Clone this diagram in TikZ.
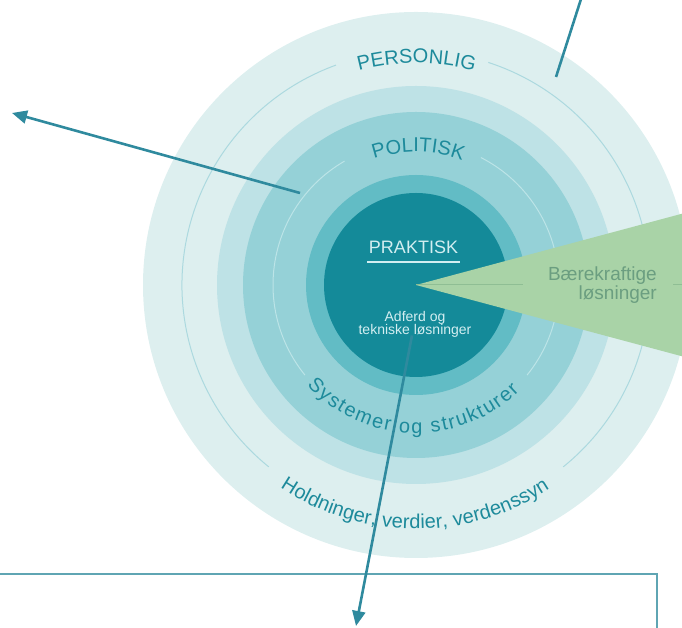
\documentclass[tikz,border=0pt]{standalone}
\usepackage{fontspec}
\setmainfont{Liberation Sans}
\usetikzlibrary{arrows.meta,decorations.text,positioning,calc}

\definecolor{ringA}{HTML}{DDEFEF}
\definecolor{ringB}{HTML}{BEE2E6}
\definecolor{ringC}{HTML}{95D1D7}
\definecolor{ringD}{HTML}{62BCC5}
\definecolor{core}{HTML}{148A99}
\definecolor{thinA}{HTML}{ACD9DF}
\definecolor{thinC}{HTML}{BCE4E7}
\definecolor{labelc}{HTML}{1D8A9B}
\definecolor{corelabel}{HTML}{D3EEF1}
\definecolor{wedge}{HTML}{A9D3A7}
\definecolor{wedgetext}{HTML}{6B9E80}
\definecolor{wedgeline}{HTML}{8FBE94}
\definecolor{arrowc}{HTML}{2F8A9E}
\definecolor{boxc}{HTML}{5FA5B3}

\newcommand\arcfont{\fontsize{20}{20}\selectfont}

\begin{document}
\begin{tikzpicture}[x=1pt,y=1pt,>={Triangle[length=15pt,width=13pt]},
    pointer/.style={->,draw=arrowc,fill=arrowc,line width=2.6pt},
    thin ring/.style={draw=#1,line width=1pt},
    arc label/.style={decorate,decoration={text along path,text={|\arcfont|#1},
        text color=labelc,text align=fit to path}},
    core text/.style={text=corelabel,inner sep=0pt}]

\useasboundingbox (0,0) rectangle (682,628);
\clip (0,0) rectangle (682,628);
\coordinate (C) at (416,343);

% rings
\fill[ringA] (C) circle (273);
\fill[ringB] (C) circle (199);
\fill[ringC] (C) circle (173);
\fill[ringD] (C) circle (110);
\fill[core]  (C) circle (92);

% thin circles, open where the labels sit
\draw[thin ring=thinA] ([shift={(110:234)}]C) arc[start angle=110,end angle=231,radius=234];
\draw[thin ring=thinA] ([shift={(309:234)}]C) arc[start angle=309,end angle=432,radius=234];
\draw[thin ring=thinC] ([shift={(120:143)}]C) arc[start angle=120,end angle=219,radius=143];
\draw[thin ring=thinC] ([shift={(321:143)}]C) arc[start angle=321,end angle=423,radius=143];

% labels on the rings
\arcfont
\path[arc label=PERSONLIG] ([shift={(104.9:222)}]C) arc[start angle=104.9,end angle=75.8,radius=222];
\path[arc label=POLITISK] ([shift={(108.4:133)}]C) arc[start angle=108.4,end angle=70,radius=133];
\path[arc label={Systemer og strukturer}] ([shift={(222.6:148)}]C) arc[start angle=222.6,end angle=314.5,radius=148];
\path[arc label={Holdninger, verdier, verdenssyn}] ([shift={(236.2:244)}]C) arc[start angle=236.2,end angle=303.2,radius=244];

% core
\node[core text,font=\fontsize{18}{18}\selectfont,anchor=base] (praktisk) at (413.5,374) {PRAKTISK};
\draw[corelabel,line width=2pt] ([shift={(-1.5,-8.3)}]praktisk.base west) -- ([shift={(1.5,-8.3)}]praktisk.base east);
\node[core text,font=\fontsize{14}{13.3}\selectfont,align=center,anchor=base] (adferd) at (415,293.5) {Adferd og\\tekniske løsninger};

% wedge
\fill[wedge] (C) -- +(15:400) -- +(-15:400) -- cycle;
\node[text=wedgetext,inner sep=0pt,font=\fontsize{19}{19}\selectfont,align=right,anchor=base east] (losning) at (657,328) {Bærekraftige\\løsninger};
\draw[wedgeline,line width=1pt] (C) -- ([xshift=-25pt]losning.west |- C);
\draw[wedgeline,line width=1pt] ([xshift=16pt]losning.east |- C) -- (690,343);

% box below
\draw[boxc,line width=2pt] (-20,54) -| (657,-40);

% pointers
\coordinate (p-top) at (556,551);
\coordinate (p-top-end) at (590,657);
\coordinate (p-left) at (300,435);
\coordinate (p-left-end) at (12,515);
\coordinate (p-down-end) at (356,2);
\draw[pointer] (p-top) -- (p-top-end);
\draw[pointer] (p-left) -- (p-left-end);
\draw[pointer] ([shift={(-3,-1)}]adferd.base) -- (p-down-end);

\end{tikzpicture}
\end{document}
